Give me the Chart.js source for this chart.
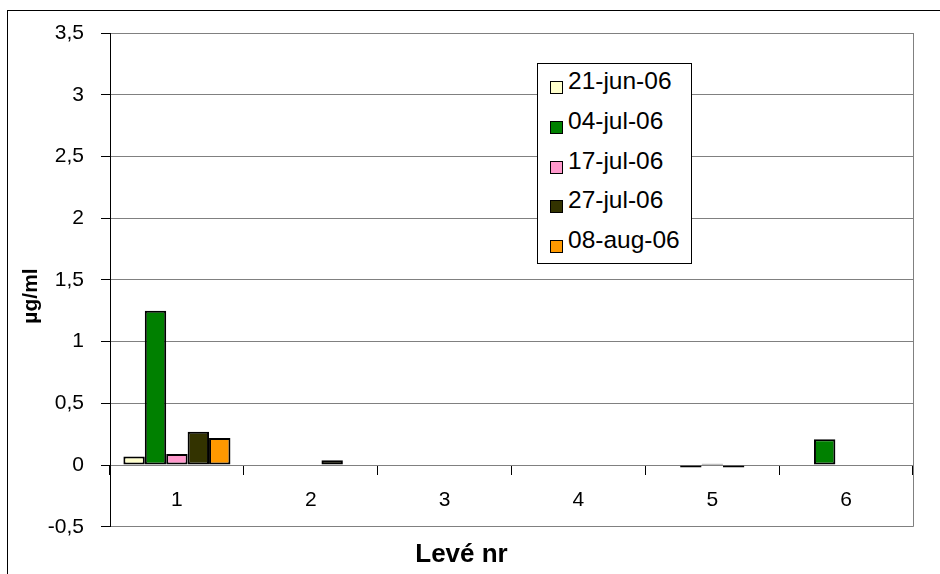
<!DOCTYPE html>
<html>
<head>
<meta charset="utf-8">
<script src="https://cdn.jsdelivr.net/npm/chart.js@4.4.1/dist/chart.umd.min.js"></script>
<style>
  body { margin: 0; background: #fff; }
  #wrap { position: relative; width: 940px; height: 574px; }
  #legend {
    position: absolute; left: 537px; top: 63px; width: 153px; height: 199px;
    border: 1px solid #000; background: #fff;
    font-family: "Liberation Sans", Arial, sans-serif; font-size: 24.5px; color: #000;
  }
  #legend .item { position: absolute; left: 12px; height: 28px; line-height: 28px; white-space: nowrap; }
  #legend .box { position: absolute; left: 0; top: 14px; width: 11px; height: 11px; border: 1px solid #000; }
  #legend .txt { position: absolute; left: 18px; top: 0; }
</style>
</head>
<body>
<div id="wrap">
  <canvas id="chart" width="940" height="574"></canvas>
  <div id="legend"></div>
</div>
<script>
// Categories and series
const categories = ["1", "2", "3", "4", "5", "6"];
const seriesNames = ["21-jun-06", "04-jul-06", "17-jul-06", "27-jul-06", "08-aug-06"];
const jun21 = [0.07, 0, 0, 0, 0, 0];
const jul04 = [1.25, 0, 0, 0, -0.02, 0.21];
const jul17 = [0.09, 0, 0, 0, 0.01, 0];
const jul27 = [0.27, 0.04, 0, 0, -0.02, 0];
const aug08 = [0.22, 0, 0, 0, 0, 0];
const seriesColors = ["#FFFFCC", "#008000", "#FF99CC", "#333300", "#FF9900"];
const yTickLabels = ["-0,5", "0", "0,5", "1", "1,5", "2", "2,5", "3", "3,5"];
const yTitle = "µg/ml";
const xTitle = "Levé nr";

const seriesValues = [jun21, jul04, jul17, jul27, aug08];
const font = "'Liberation Sans', Arial, sans-serif";

// Outer chart frame, plot area right border and the y axis title
const framePlugin = {
  id: "frame",
  beforeDraw(chart) {
    const ctx = chart.ctx;
    ctx.save();
    ctx.strokeStyle = "#000";
    ctx.lineWidth = 1;
    ctx.strokeRect(7.5, 10.5, 1000, 1000);
    ctx.restore();
  },
  beforeDatasetsDraw(chart) {
    const a = chart.chartArea;
    const ctx = chart.ctx;
    ctx.save();
    ctx.strokeStyle = "#808080";
    ctx.lineWidth = 1;
    ctx.beginPath();
    ctx.moveTo(Math.round(a.right) + 0.5, a.top);
    ctx.lineTo(Math.round(a.right) + 0.5, a.bottom);
    ctx.stroke();
    ctx.restore();
  },
  afterDraw(chart) {
    const ctx = chart.ctx;
    ctx.save();
    ctx.translate(31, 296);
    ctx.rotate(-Math.PI / 2);
    ctx.font = "bold 21px " + font;
    ctx.fillStyle = "#000";
    ctx.textAlign = "center";
    ctx.textBaseline = "middle";
    ctx.fillText(yTitle, 0, 0);
    ctx.restore();
  }
};

const chart = new Chart(document.getElementById("chart"), {
  type: "bar",
  data: {
    labels: categories,
    datasets: seriesNames.map((name, i) => ({
      label: name,
      data: seriesValues[i],
      backgroundColor: seriesColors[i],
      borderColor: "#000",
      borderWidth: 2,
      borderSkipped: false,
      categoryPercentage: 0.8,
      barPercentage: 1.0
    }))
  },
  options: {
    responsive: false,
    animation: false,
    layout: { padding: { left: 10, top: 33, right: 27, bottom: 0 } },
    plugins: {
      legend: { display: false },
      tooltip: { enabled: false },
      title: {
        display: true,
        text: xTitle,
        position: "bottom",
        color: "#000",
        font: { family: font, size: 26, weight: "bold" },
        padding: { top: 12, bottom: 4 }
      }
    },
    scales: {
      x: {
        position: { y: 0 },
        offset: true,
        grid: { drawOnChartArea: false, drawTicks: true, tickLength: 9, tickColor: "#000", offset: true },
        border: { color: "#808080", width: 1 },
        ticks: { color: "#000", font: { family: font, size: 21 }, padding: 14, maxRotation: 0 }
      },
      y: {
        min: -0.5,
        max: 3.5,
        afterFit(scale) { scale.width = 100; },
        grid: { color: "#808080", lineWidth: 1, tickLength: 9, tickColor: "#000" },
        border: { color: "#000", width: 1 },
        ticks: {
          stepSize: 0.5,
          color: "#000",
          font: { family: font, size: 21 },
          padding: 17,
          callback: (v, i) => yTickLabels[i]
        }
      }
    }
  },
  plugins: [framePlugin]
});

// Legend box built from the datasets
const legend = document.getElementById("legend");
chart.data.datasets.forEach((ds, i) => {
  const item = document.createElement("div");
  item.className = "item";
  item.style.top = (3 + i * 39.8) + "px";
  item.innerHTML = '<span class="box" style="background:' + ds.backgroundColor + '"></span><span class="txt">' + ds.label + '</span>';
  legend.appendChild(item);
});
</script>
</body>
</html>
